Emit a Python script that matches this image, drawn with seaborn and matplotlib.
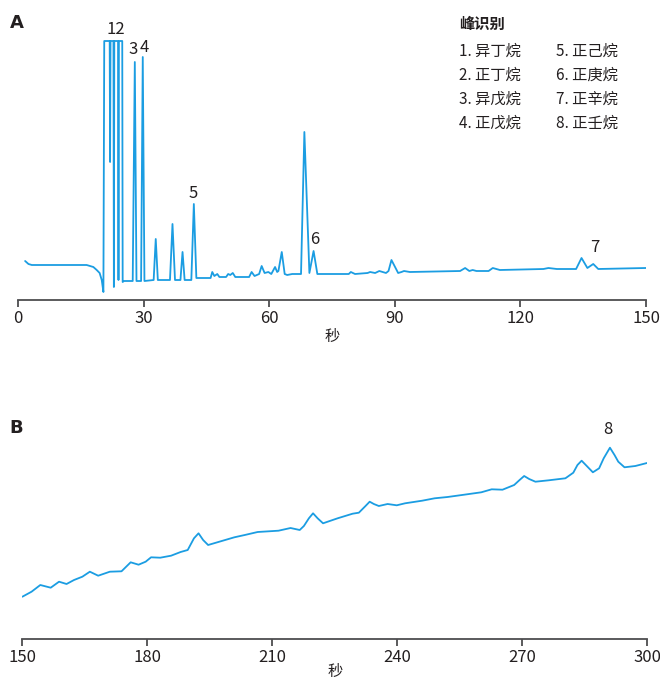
import matplotlib
matplotlib.use("Agg")
import matplotlib.pyplot as plt
import seaborn as sns
import pandas as pd

# panel A: chromatogram 0-150 s (signal in arbitrary units, top is clipped)
time_a = [1.7, 2.5, 3.3, 10, 16.4, 18.0, 18.8, 19.5, 20.0, 20.4, 20.6, 21.9, 22.0, 22.1,
          22.8, 22.9, 23.0, 23.9, 24.0, 24.1, 24.9, 25.0, 25.3, 27.4, 27.9, 28.3, 29.4,
          29.8, 30.2, 32.4, 32.9, 33.4, 36.3, 36.9, 37.5, 38.8, 39.3, 39.8, 41.4, 42.0,
          42.6, 46.0, 46.4, 46.9, 47.6, 48.1, 49.7, 50.2, 50.7, 51.3, 51.9, 55.2, 55.8,
          56.5, 57.6, 58.2, 58.9, 59.8, 60.5, 61.4, 61.9, 62.2, 63.0, 63.7, 64.3, 65.5,
          67.6, 68.4, 69.6, 70.6, 71.5, 74.5, 79.0, 79.5, 80.5, 83.5, 84.1, 85.3, 86.3,
          87.9, 88.5, 89.2, 90.8, 91.6, 92.2, 93.6, 105.6, 106.8, 107.8, 108.6, 109.5,
          112.4, 113.4, 115.1, 125.5, 126.7, 128.7, 133.3, 134.6, 136.0, 137.4, 138.6, 150]
signal_a = [39, 36, 35, 35, 35, 33, 30, 27, 20, 8, 259, 259, 138, 259,
            259, 13, 259, 259, 20, 259, 259, 18, 19, 19, 238, 19, 19,
            243, 19, 20, 61, 20, 20, 76, 20, 20, 48, 20, 20, 96,
            22, 22, 28, 24, 26, 23, 23, 26, 25, 27, 23, 23, 28,
            24, 26, 34, 27, 28, 26, 33, 28, 29, 48, 26, 25, 26,
            26, 168, 27, 49, 26, 26, 26, 28, 26, 27, 28, 27, 29,
            27, 29, 40, 27, 28, 29, 28, 29, 32, 29, 30, 29,
            29, 32, 30, 31, 32, 31, 31, 42, 32, 36, 31, 32]

# panel B: 150-300 s
time_b = [150, 152.2, 154.3, 156.8, 158.8, 160.6, 162.4, 164.4, 166.2, 168.2, 171.0, 173.8,
          176.0, 177.9, 179.6, 180.9, 183.1, 185.7, 188.0, 189.7, 191.2, 192.3, 193.4, 194.6,
          197.3, 200.9, 203.4, 206.5, 211.5, 214.4, 216.6, 217.6, 218.8, 219.8, 220.9, 222.2,
          225.7, 229.3, 230.8, 232.4, 233.4, 234.4, 235.6, 237.7, 239.9, 241.9, 246.0, 249.0,
          252.1, 256.1, 260.2, 262.7, 265.3, 268.1, 269.4, 270.5, 271.7, 273.2, 276.4, 280.4,
          282.3, 283.3, 284.3, 285.3, 287.0, 288.5, 289.6, 291.1, 292.2, 293.1, 294.6, 297.2, 300]
signal_b = [42.3, 47.3, 54, 51.3, 57.3, 55, 59, 62.3, 67.3, 63.3, 67.3, 67.7,
            76.7, 74.3, 77.3, 81.7, 81.3, 83.3, 87, 89, 100.7, 105.7, 99, 94,
            97.3, 101.7, 104, 107, 108.3, 111, 109, 113, 120.7, 125.7, 120.7, 115.7,
            120.7, 125.3, 126.3, 133, 137.3, 135, 133, 135, 133.7, 135.7, 138.3, 140.7,
            142, 144.3, 146.7, 149.7, 149.3, 154, 159, 163, 160, 157.3, 158.7, 160.7,
            166.3, 174, 178.3, 174, 166.7, 170.7, 180.7, 191.3, 184, 177.3, 171.7, 173, 176]

peak_labels_a = ["12", "3", "4", "5", "6", "7"]
peak_pos_a = [(23.4, 270), (27.4, 251), (30.2, 253), (41.9, 107), (70.8, 61), (137.8, 53)]
peak_labels_b = ["8"]
peak_pos_b = [(290.6, 209)]

legend_title = "峰识别"
legend_col1 = ["1. 异丁烷", "2. 正丁烷", "3. 异戊烷", "4. 正戊烷"]
legend_col2 = ["5. 正己烷", "6. 正庚烷", "7. 正辛烷", "8. 正壬烷"]

ticks_a = [0, 30, 60, 90, 120, 150]
ticks_b = [150, 180, 210, 240, 270, 300]

sns.set_style("white")
plt.rcParams["font.family"] = ["Noto Sans CJK SC", "DejaVu Sans"]

line_color = "#1b9de2"
text_color = "#231f20"
axis_color = "#4d4d4f"

df_a = pd.DataFrame({"t": time_a, "s": signal_a})
df_b = pd.DataFrame({"t": time_b, "s": signal_b})

fig = plt.figure(figsize=(6.6, 6.81), dpi=100)
ax_a = fig.add_axes([18 / 660, 1 - 300 / 681, 628 / 660, 290 / 681])
ax_b = fig.add_axes([22.4 / 660, 1 - 639 / 681, 624.6 / 660, 230 / 681])


def style_axis(ax, ticks, lim, ytop, xlabel_pad):
    ax.set_xlim(lim)
    ax.set_ylim(0, ytop)
    ax.set_xticks(ticks)
    ax.set_yticks([])
    for side in ["top", "right", "left"]:
        ax.spines[side].set_visible(False)
    ax.spines["bottom"].set_color(axis_color)
    ax.spines["bottom"].set_linewidth(1.3)
    ax.tick_params(axis="x", direction="out", length=5, width=1.3, color=axis_color,
                   labelsize=12, labelcolor=text_color, pad=2, bottom=True)
    ax.set_ylabel("")
    ax.set_xlabel("秒", fontsize=11, color=text_color, labelpad=xlabel_pad)
    ax.patch.set_alpha(0)


sns.lineplot(data=df_a, x="t", y="s", ax=ax_a, color=line_color, linewidth=1.3, sort=False)
style_axis(ax_a, ticks_a, (0, 150), 290, 1)
for lab, (x, y) in zip(peak_labels_a, peak_pos_a):
    ax_a.text(x, y, lab, ha="center", va="center", fontsize=12, color=text_color)

sns.lineplot(data=df_b, x="t", y="s", ax=ax_b, color=line_color, linewidth=1.3, sort=False)
style_axis(ax_b, ticks_b, (150, 300), 230, -2)
for lab, (x, y) in zip(peak_labels_b, peak_pos_b):
    ax_b.text(x, y, lab, ha="center", va="center", fontsize=12, color=text_color)

for ax in (ax_a, ax_b):
    for ln in ax.get_lines():
        ln.set_solid_joinstyle("round")

# panel letters
fig.text(10 / 660, 1 - 23 / 681, "A", fontsize=13, fontweight="bold", color=text_color,
         ha="left", va="center", family="DejaVu Sans")
fig.text(9 / 660, 1 - 428 / 681, "B", fontsize=13, fontweight="bold", color=text_color,
         ha="left", va="center", family="DejaVu Sans")

# peak identification legend
fig.text(459 / 660, 1 - 24 / 681, legend_title, fontsize=11, fontweight="bold",
         color=text_color, ha="left", va="center")
rows_y = [51.7, 75, 99, 123.3]
for name1, name2, y in zip(legend_col1, legend_col2, rows_y):
    fig.text(459 / 660, 1 - y / 681, name1, fontsize=11, color=text_color, ha="left", va="center")
    fig.text(556 / 660, 1 - y / 681, name2, fontsize=11, color=text_color, ha="left", va="center")

fig.savefig("out.png", dpi=100)
